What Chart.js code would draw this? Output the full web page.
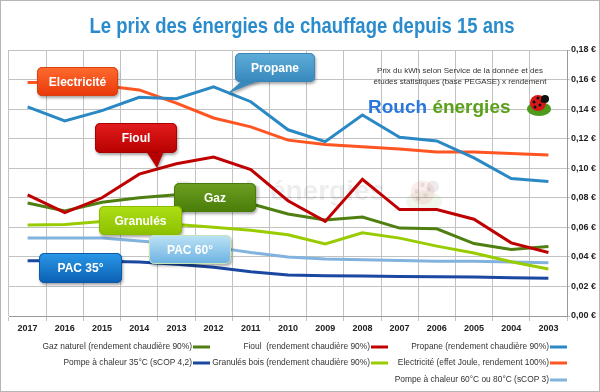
<!DOCTYPE html>
<html>
<head>
<meta charset="utf-8">
<script src="https://cdn.jsdelivr.net/npm/chart.js@4"></script>
<style>
  body { margin: 0; background: #fff; }
  canvas { display: block; }
</style>
</head>
<body>
<canvas id="myChart" width="600" height="392"></canvas>
<script>
// Years, left to right as in the picture
const years = ['2017', '2016', '2015', '2014', '2013', '2012', '2011', '2010', '2009', '2008', '2007', '2006', '2005', '2004', '2003'];

// Price per kWh (€) for each energy
const propane     = [0.1415, 0.132, 0.139, 0.148, 0.147, 0.155, 0.145, 0.126, 0.118, 0.136, 0.121, 0.1185, 0.107, 0.093, 0.091];
const electricite = [0.158, 0.158, 0.156, 0.153, 0.144, 0.134, 0.128, 0.119, 0.116, 0.1145, 0.113, 0.111, 0.111, 0.110, 0.109];
const fioul       = [0.082, 0.070, 0.080, 0.096, 0.103, 0.1075, 0.099, 0.078, 0.064, 0.0925, 0.072, 0.072, 0.0655, 0.0495, 0.043];
const gaz         = [0.0765, 0.071, 0.077, 0.080, 0.082, 0.083, 0.076, 0.069, 0.065, 0.067, 0.0595, 0.059, 0.049, 0.045, 0.047];
const granules    = [0.0615, 0.062, 0.064, 0.0635, 0.062, 0.060, 0.058, 0.055, 0.0487, 0.0563, 0.0527, 0.0473, 0.0426, 0.0367, 0.0318];
const pac60       = [0.0527, 0.0527, 0.0527, 0.0507, 0.0487, 0.0466, 0.043, 0.040, 0.0385, 0.038, 0.0375, 0.037, 0.037, 0.0365, 0.036];
const pac35       = [0.0374, 0.0374, 0.037, 0.0365, 0.035, 0.033, 0.030, 0.0277, 0.0272, 0.027, 0.0268, 0.0266, 0.0264, 0.0258, 0.0255];

// Legend names
const seriesNames = [
    'Propane (rendement chaudière 90%)',
    'Electricité (effet Joule, rendement 100%)',
    'Fioul  (rendement chaudière 90%)',
    'Granulés bois (rendement chaudière 90%)',
    'Gaz naturel (rendement chaudière 90%)',
    'Pompe à chaleur 35°C (sCOP 4,2)',
    'Pompe à chaleur 60°C ou 80°C (sCOP 3)'
];

// Y axis range
const yMin = 0;
const yMax = 0.18;
const yStep = 0.02;

const seriesColors = ['#2a88c4', '#ff5522', '#c00000', '#99cc00', '#4f7f10', '#1a47a0', '#82b2de'];
const seriesValues = [propane, electricite, fioul, granules, gaz, pac35, pac60];

const titleText = 'Le prix des énergies de chauffage depuis 15 ans';
const sourceLines = ['Prix du kWh selon Service de la donnée et des', 'études statistiques (base PEGASE) x rendement'];

// Callout boxes (layout only)
const callouts = [
    { text: 'Propane', x: 235, y: 53, w: 80, h: 29, top: '#5eadd8', bottom: '#3788bd', border: '#3b86b8', pointer: [[243, 80], [260, 80], [227, 94]] },
    { text: 'Electricité', x: 37, y: 67, w: 81, h: 29, top: '#ff6b2e', bottom: '#e8380a', border: '#d8400f' },
    { text: 'Fioul', x: 95, y: 123, w: 82, h: 30, top: '#e21c1c', bottom: '#b80000', border: '#a80000', pointer: [[146, 151], [164, 151], [157, 168]] },
    { text: 'Gaz', x: 174, y: 183, w: 82, h: 29, top: '#6c9f20', bottom: '#4a7d0a', border: '#4a7a0a' },
    { text: 'Granulés', x: 99, y: 206, w: 83, h: 29, top: '#addf14', bottom: '#8cc000', border: '#8abc00' },
    { text: 'PAC 60°', x: 149, y: 235, w: 82, h: 29, top: '#bde2f5', bottom: '#6cb2e2', border: '#c6e6b8' },
    { text: 'PAC 35°', x: 39, y: 253, w: 83, h: 30, top: '#2b98e8', bottom: '#0a5fb2', border: '#0a5aa8' }
];

function drawCallout(ctx, c) {
    ctx.save();
    ctx.shadowColor = 'rgba(0,0,0,0.35)';
    ctx.shadowOffsetX = 1;
    ctx.shadowOffsetY = 2;
    ctx.shadowBlur = 3;
    const grad = ctx.createLinearGradient(0, c.y, 0, c.y + c.h);
    grad.addColorStop(0, c.top);
    grad.addColorStop(1, c.bottom);
    ctx.fillStyle = grad;
    ctx.beginPath();
    ctx.roundRect(c.x, c.y, c.w, c.h, 5);
    ctx.fill();
    if (c.pointer) {
        ctx.fillStyle = c.bottom;
        ctx.beginPath();
        ctx.moveTo(c.pointer[0][0], c.pointer[0][1]);
        ctx.lineTo(c.pointer[1][0], c.pointer[1][1]);
        ctx.lineTo(c.pointer[2][0], c.pointer[2][1]);
        ctx.closePath();
        ctx.fill();
    }
    ctx.restore();
    ctx.save();
    ctx.strokeStyle = c.border;
    ctx.lineWidth = 1;
    ctx.beginPath();
    ctx.roundRect(c.x + 0.5, c.y + 0.5, c.w - 1, c.h - 1, 5);
    ctx.stroke();
    ctx.fillStyle = '#fff';
    ctx.font = 'bold 12px "Liberation Sans", Arial, sans-serif';
    ctx.textAlign = 'center';
    ctx.textBaseline = 'middle';
    ctx.fillText(c.text, c.x + c.w / 2, c.y + c.h / 2 + 1);
    ctx.restore();
}

function drawLadybug(ctx, cx, cy, s, alpha) {
    ctx.save();
    ctx.globalAlpha = alpha;
    ctx.fillStyle = '#4e9a1c';
    ctx.beginPath();
    ctx.ellipse(cx, cy + 5 * s, 12 * s, 7 * s, 0, 0, Math.PI * 2);
    ctx.fill();
    ctx.fillStyle = '#d81818';
    ctx.beginPath();
    ctx.arc(cx - 1 * s, cy - 1 * s, 8 * s, 0, Math.PI * 2);
    ctx.fill();
    ctx.fillStyle = '#111';
    ctx.beginPath();
    ctx.arc(cx + 6 * s, cy - 5 * s, 4 * s, 0, Math.PI * 2);
    ctx.fill();
    [[-5, -2], [-1, -6], [1, 1], [-4, 3], [3, -3]].forEach(p => {
        ctx.beginPath();
        ctx.arc(cx + p[0] * s, cy + p[1] * s, 1.5 * s, 0, Math.PI * 2);
        ctx.fill();
    });
    ctx.restore();
}

// Frame, title, watermark, source note, logo, callouts and legend
const decorPlugin = {
    id: 'decor',
    beforeDraw(chart) {
        const ctx = chart.ctx;
        ctx.save();
        ctx.fillStyle = '#fff';
        ctx.fillRect(0, 0, chart.width, chart.height);
        ctx.restore();
    },
    beforeDatasetsDraw(chart) {
        const ctx = chart.ctx;
        // faint watermark
        ctx.save();
        ctx.fillStyle = 'rgba(0,0,0,0.07)';
        ctx.font = 'bold 28px "Liberation Sans", Arial, sans-serif';
        ctx.textBaseline = 'middle';
        ctx.fillText('Rouch énergies', 175, 192);
        ctx.restore();
        drawLadybug(ctx, 424, 194, 1.5, 0.08);
    },
    afterDatasetsDraw(chart) {
        const ctx = chart.ctx;
        callouts.forEach(c => drawCallout(ctx, c));

        // source note
        ctx.save();
        ctx.fillStyle = '#333';
        ctx.font = '8px "Liberation Sans", Arial, sans-serif';
        ctx.textAlign = 'center';
        ctx.textBaseline = 'middle';
        ctx.fillText(sourceLines[0], 460, 71);
        ctx.fillText(sourceLines[1], 460, 82);

        // logo
        ctx.textAlign = 'left';
        ctx.font = 'bold 19px "Liberation Sans", Arial, sans-serif';
        ctx.fillStyle = '#2a78de';
        ctx.fillText('Rouch', 368, 108);
        const rw = ctx.measureText('Rouch ').width;
        ctx.fillStyle = '#5aa018';
        ctx.fillText('énergies', 368 + rw, 108);
        ctx.restore();
        drawLadybug(ctx, 539, 104, 1, 1);
    },
    afterDraw(chart) {
        const ctx = chart.ctx;
        ctx.save();
        // title: bold, squeezed horizontally to its width in the picture
        ctx.font = 'bold 22px "Liberation Sans", Arial, sans-serif';
        const w = ctx.measureText(titleText).width;
        ctx.fillStyle = '#2a8ccc';
        ctx.textAlign = 'center';
        ctx.textBaseline = 'alphabetic';
        ctx.translate(302, 33);
        ctx.scale(425 / w, 1);
        ctx.fillText(titleText, 0, 0);
        ctx.restore();

        ctx.save();
        // legend: three columns, swatch right of text
        const colRight = [567, 388, 210];
        const rowY = [347, 363, 380];
        const slots = [[0, 0], [1, 0], [0, 1], [1, 1], [0, 2], [1, 2], [2, 0]]; // [row, col] per dataset
        ctx.font = '8.4px "Liberation Sans", Arial, sans-serif';
        ctx.textAlign = 'right';
        ctx.textBaseline = 'middle';
        chart.data.datasets.forEach((ds, i) => {
            const [r, col] = slots[i];
            const xr = colRight[col];
            const y = rowY[r];
            ctx.strokeStyle = ds.borderColor;
            ctx.lineWidth = 3;
            ctx.beginPath();
            ctx.moveTo(xr - 17, y);
            ctx.lineTo(xr, y);
            ctx.stroke();
            ctx.fillStyle = '#333';
            ctx.fillText(ds.label, xr - 18, y);
        });

        // outer frame
        ctx.strokeStyle = '#b5b5b5';
        ctx.lineWidth = 1;
        ctx.strokeRect(0.5, 0.5, chart.width - 1, chart.height - 1);
        ctx.restore();
    }
};

const datasets = seriesValues.map((vals, i) => ({
    label: seriesNames[i],
    data: vals,
    borderColor: seriesColors[i],
    backgroundColor: seriesColors[i],
    borderWidth: 3,
    pointRadius: 0,
    tension: 0,
    fill: false
}));

const chart = new Chart(document.getElementById('myChart').getContext('2d'), {
    type: 'line',
    data: { labels: years, datasets: datasets },
    options: {
        responsive: false,
        animation: false,
        layout: { padding: { left: 9, top: 50, right: 0, bottom: 54 } },
        plugins: {
            legend: { display: false },
            tooltip: { enabled: false }
        },
        scales: {
            x: {
                offset: true,
                grid: { color: '#c2c2c2', offset: true, tickLength: 5 },
                border: { color: '#999' },
                ticks: {
                    color: '#222',
                    font: { family: '"Liberation Sans", Arial, sans-serif', size: 9, weight: 'bold' },
                    padding: 2,
                    maxRotation: 0,
                    autoSkip: false
                },
                afterFit: s => { s.height = 22; }
            },
            y: {
                position: 'right',
                min: yMin,
                max: yMax,
                grid: { color: '#c2c2c2', tickLength: 3 },
                border: { color: '#999' },
                ticks: {
                    stepSize: yStep,
                    color: '#222',
                    font: { family: '"Liberation Sans", Arial, sans-serif', size: 9, weight: 'bold' },
                    padding: 1,
                    callback: v => v.toFixed(2).replace('.', ',') + ' €'
                },
                afterFit: s => { s.width = 33; }
            }
        }
    },
    plugins: [decorPlugin]
});
</script>
</body>
</html>
